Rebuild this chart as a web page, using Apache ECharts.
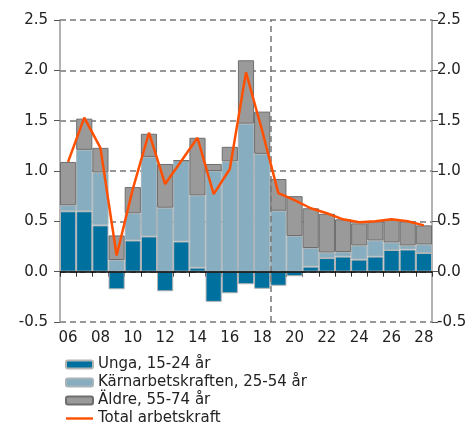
<!DOCTYPE html>
<html>
<head>
<meta charset="utf-8">
<script src="https://cdn.jsdelivr.net/npm/echarts@6/dist/echarts.min.js"></script>
<style>
  html, body { margin: 0; padding: 0; background: #fff; }
  #chart { width: 475px; height: 424px; }
</style>
</head>
<body>
<div id="chart"></div>
<script>
const years = ['06', '07', '08', '09', '10', '11', '12', '13', '14', '15', '16', '17',
  '18', '19', '20', '21', '22', '23', '24', '25', '26', '27', '28']

const unga = [0.60, 0.60, 0.46, -0.175, 0.31, 0.35, -0.195, 0.30, 0.04, -0.30, -0.215, -0.125,
  -0.17, -0.14, -0.045, 0.05, 0.135, 0.15, 0.12, 0.15, 0.215, 0.22, 0.185]
const karna = [0.06, 0.61, 0.525, 0.116, 0.27, 0.79, 0.635, 0.80, 0.717, 1.00, 1.095, 1.47,
  1.17, 0.605, 0.354, 0.185, 0.055, 0.045, 0.14, 0.16, 0.075, 0.04, 0.085]
const aldre = [0.43, 0.31, 0.245, 0.244, 0.26, 0.23, 0.435, 0.005, 0.573, 0.07, 0.145, 0.63,
  0.42, 0.315, 0.396, 0.395, 0.385, 0.325, 0.22, 0.19, 0.23, 0.24, 0.19]
const total = [1.09, 1.53, 1.23, 0.16, 0.82, 1.38, 0.87, 1.10, 1.33, 0.77, 1.02, 1.98,
  1.40, 0.78, 0.71, 0.63, 0.58, 0.52, 0.49, 0.50, 0.52, 0.50, 0.46]

const font = 'DejaVu Sans'
const forecastStart = 13 // forecast begins with 2019 (boundary after the 2018 bar)

const yAxisBase = {
  type: 'value',
  min: -0.5,
  max: 2.5,
  interval: 0.5,
  axisLine: { show: true, onZero: false, lineStyle: { color: '#9a9a9a', width: 1.5, type: 'solid' } },
  axisTick: { show: true, length: 6, lineStyle: { color: '#555' } },
  axisLabel: {
    fontFamily: font, fontSize: 15, color: '#222',
    formatter: v => v.toFixed(1)
  }
}

const chart = echarts.init(document.getElementById('chart'))
chart.setOption({
  animation: false,
  grid: { left: 60, right: 43, top: 20, bottom: 102 },
  legend: {
    orient: 'vertical',
    left: 60,
    top: 352,
    height: 100,
    itemWidth: 27,
    itemHeight: 8,
    itemGap: 3,
    textStyle: { fontFamily: font, fontSize: 15, color: '#222' },
    data: [
      'Unga, 15-24 år',
      'Kärnarbetskraften, 25-54 år',
      'Äldre, 55-74 år',
      { name: 'Total arbetskraft', icon: 'path://M0,0M0,2.8L27,2.8L27,5.2L0,5.2ZM27,8' }
    ]
  },
  xAxis: [
    {
      type: 'category',
      data: years,
      axisLine: { show: false },
      axisTick: { show: true, interval: 0, length: 5, lineStyle: { color: '#333' } },
      axisLabel: { interval: 1, margin: 9, fontFamily: font, fontSize: 15, color: '#222' },
      splitLine: { show: false }
    },
    { type: 'value', min: 0, max: years.length, show: false }
  ],
  yAxis: [
    Object.assign({}, yAxisBase, {
      position: 'left',
      axisLabel: Object.assign({}, yAxisBase.axisLabel, { margin: 12 }),
      splitLine: { show: true, lineStyle: { color: '#777', type: [6, 4], width: 1.5 } }
    }),
    Object.assign({}, yAxisBase, {
      position: 'right',
      axisLabel: Object.assign({}, yAxisBase.axisLabel, { margin: 5 }),
      splitLine: { show: false }
    })
  ],
  series: [
    {
      name: 'Unga, 15-24 år',
      type: 'bar',
      stack: 'tot',
      data: unga,
      barWidth: '100%',
      barCategoryGap: 0,
      itemStyle: { color: '#00709e', borderColor: '#b4b4b4', borderWidth: 1 },
      markLine: {
        silent: true,
        symbol: 'none',
        label: { show: false },
        lineStyle: { color: '#000', type: 'solid', width: 1.5 },
        data: [{ yAxis: 0 }],
        z: 10
      }
    },
    {
      name: 'Kärnarbetskraften, 25-54 år',
      type: 'bar',
      stack: 'tot',
      data: karna,
      itemStyle: { color: '#87aec0', borderColor: '#a9b4ba', borderWidth: 1 }
    },
    {
      name: 'Äldre, 55-74 år',
      type: 'bar',
      stack: 'tot',
      data: aldre,
      itemStyle: { color: '#9a9a9a', borderColor: '#6e6e6e', borderWidth: 1 }
    },
    {
      name: 'Total arbetskraft',
      type: 'line',
      data: total,
      symbol: 'none',
      z: 5,
      lineStyle: { color: '#ff4f00', width: 2.5 },
      itemStyle: { color: '#ff4f00' }
    },
    {
      // carries the dashed forecast divider on the hidden value x-axis
      name: 'prognos',
      type: 'line',
      xAxisIndex: 1,
      data: [],
      markLine: {
        silent: true,
        symbol: 'none',
        label: { show: false },
        lineStyle: { color: '#777', type: [6, 4], width: 1.5 },
        data: [{ xAxis: forecastStart }]
      }
    }
  ]
})
</script>
</body>
</html>
